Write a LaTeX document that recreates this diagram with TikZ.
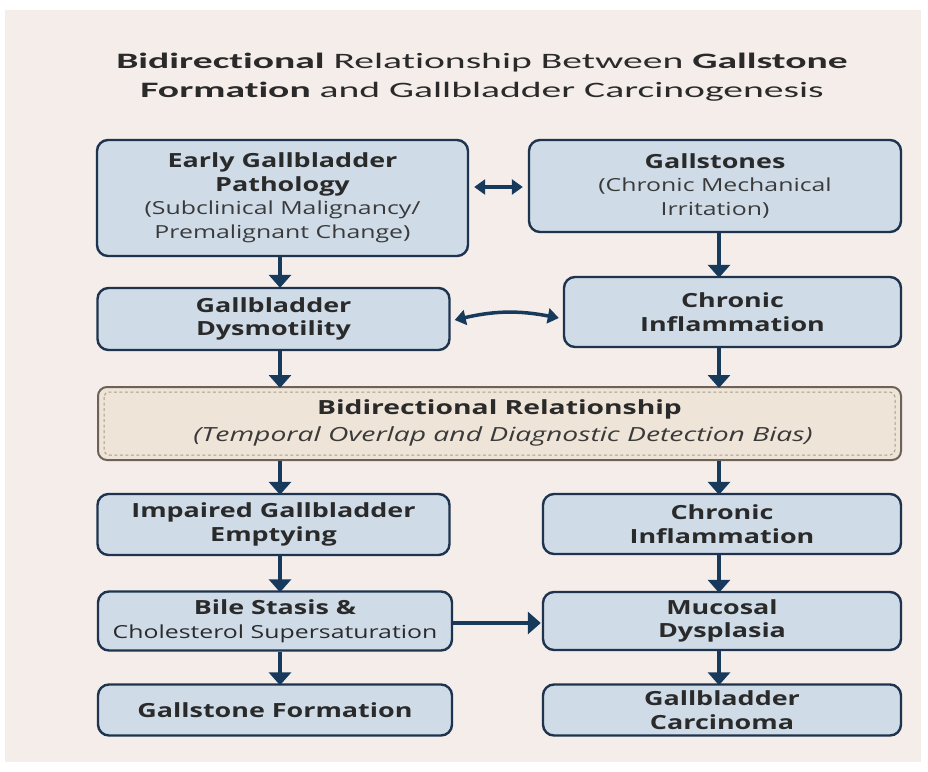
\documentclass[tikz,border=0pt]{standalone}
\usepackage{fontspec}
\setmainfont{Open Sans}
\newfontfamily\boxfont{Open Sans}[FakeStretch=1.38]
\newfontfamily\bandfont{Open Sans}[FakeStretch=1.45]
\newfontfamily\titlefont{Carlito}[FakeStretch=1.8,Ligatures=NoCommon]
\usetikzlibrary{arrows.meta,calc}
\definecolor{paper}{HTML}{F4EDEA}
\definecolor{boxfill}{HTML}{CFDCE8}
\definecolor{boxline}{HTML}{1E344E}
\definecolor{arrowc}{HTML}{17395C}
\definecolor{txtdark}{HTML}{2A2A2A}
\definecolor{txtsub}{HTML}{3A3A3A}
\definecolor{bandfill}{HTML}{EFE4D8}
\definecolor{bandline}{HTML}{6E6258}
\definecolor{banddash}{HTML}{A89C90}
\newcommand{\subline}[1]{{\fontsize{18}{22}\selectfont\mdseries\textcolor{txtsub}{#1}}}
\begin{document}
\begin{tikzpicture}[x=1pt,y=-1pt,
  flowbox/.style={draw=boxline,line width=2.4pt,fill=boxfill,rounded corners=11pt,
    inner sep=0pt,align=center,text=txtdark,font=\boxfont\fontsize{19.5}{23.5}\selectfont\bfseries},
  bandbox/.style={draw=bandline,line width=2pt,fill=bandfill,rounded corners=9pt,inner sep=0pt},
  flowarrow/.style={draw=arrowc,line width=4.5pt,-{Triangle[width=22pt,length=13pt]}},
  duoarrow/.style={draw=arrowc,line width=3.5pt,{Triangle[width=15pt,length=11pt]}-{Triangle[width=15pt,length=11pt]}}
]
\useasboundingbox (0,0) rectangle (928,771);
\fill[white] (0,0) rectangle (928,771);
\fill[paper] (5,10) rectangle (921,762);

% title
\node[font=\titlefont\fontsize{22}{29.5}\selectfont,text=txtdark,align=center] (title) at (482,77)
  {\textbf{Bidirectional} Relationship Between \textbf{Gallstone}\\
   \textbf{Formation} and Gallbladder Carcinogenesis};

% column coordinates
\coordinate (colL) at (280,0);
\coordinate (colR) at (719,0);

% boxes
\node[flowbox,minimum width=371pt,minimum height=116pt] (A) at (282.5,198)
  {Early Gallbladder\\Pathology\\\subline{(Subclinical Malignancy/}\\\subline{Premalignant Change)}};
\node[flowbox,minimum width=372pt,minimum height=92pt] (B) at (715,186)
  {Gallstones\\\subline{(Chronic Mechanical}\\\subline{Irritation)}};
\node[flowbox,minimum width=352pt,minimum height=62pt] (C) at (273.5,319)
  {Gallbladder\\Dysmotility};
\node[flowbox,minimum width=337pt,minimum height=70pt] (D) at (732.5,312)
  {Chronic\\Inflammation};
\node[bandbox,minimum width=803pt,minimum height=73pt] (E) at (499.5,423.5) {};
\draw[banddash,line width=1pt,dash pattern=on 3pt off 2.5pt,rounded corners=5pt]
  ($(E.north west)+(7,6)$) rectangle ($(E.south east)+(-7,-6)$);
\node[font=\bandfont\fontsize{19.5}{23}\selectfont\bfseries,text=txtdark] (E1) at (499.5,409) {Bidirectional Relationship};
\node[font=\bandfont\fontsize{19.5}{23}\selectfont\itshape,text=txtsub] (E2) at (503,436) {(Temporal Overlap and Diagnostic Detection Bias)};
\node[flowbox,minimum width=352pt,minimum height=61pt] (F) at (273.5,524.5)
  {Impaired Gallbladder\\Emptying};
\node[flowbox,minimum width=358pt,minimum height=60pt] (G) at (722,524)
  {Chronic\\Inflammation};
\node[flowbox,minimum width=354pt,minimum height=59pt] (H) at (275,621)
  {Bile Stasis \&\\{\fontsize{18}{22}\selectfont\mdseries Cholesterol Supersaturation}};
\node[flowbox,minimum width=358pt,minimum height=58pt] (I) at (722,621)
  {Mucosal\\Dysplasia};
\node[flowbox,minimum width=354pt,minimum height=51pt] (J) at (275,710)
  {Gallstone Formation};
\node[flowbox,minimum width=358pt,minimum height=51pt] (K) at (722,710)
  {Gallbladder\\Carcinoma};

% vertical arrows
\draw[flowarrow] (A.south -| colL) -- ([yshift=-1pt]C.north -| colL);
\draw[flowarrow] (B.south -| colR) -- ([yshift=-2pt]D.north -| colR);
\draw[flowarrow] (C.south -| colL) -- ([yshift=-2pt]E.north -| colL);
\draw[flowarrow] (D.south -| colR) -- ([yshift=-2pt]E.north -| colR);
\draw[flowarrow] (E.south -| colL) -- ([yshift=-2pt]F.north -| colL);
\draw[flowarrow] (E.south -| colR) -- ([yshift=-2pt]G.north -| colR);
\draw[flowarrow] (F.south -| colL) -- ([yshift=-2pt]H.north -| colL);
\draw[flowarrow] (G.south -| colR) -- ([yshift=-2pt]I.north -| colR);
\draw[flowarrow] (H.south -| colL) -- ([yshift=-2pt]J.north -| colL);
\draw[flowarrow] (I.south -| colR) -- ([yshift=-2pt]K.north -| colR);

% horizontal arrows
\draw[duoarrow] ([xshift=5pt]A.east |- 0,187) -- ([xshift=-5pt]B.west |- 0,187);
\draw[duoarrow] ([xshift=4pt]C.east |- 0,320) to[bend left=12] ([xshift=-4pt]D.west |- 0,318);
\draw[flowarrow,line width=4pt] (H.east |- 0,623) -- ([xshift=-1pt]I.west |- 0,623);
\end{tikzpicture}
\end{document}
